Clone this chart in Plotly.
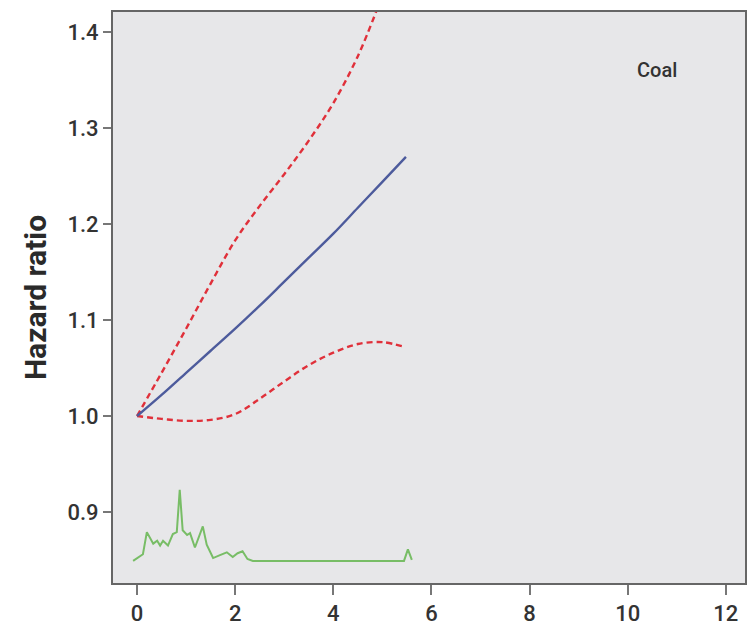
import plotly.graph_objects as go

# Central estimate (solid blue)
hr_x = [0, 0.5, 1, 1.5, 2, 2.5, 3, 3.5, 4, 4.5, 5, 5.48]
hr_y = [1.0, 1.022, 1.045, 1.068, 1.091, 1.115, 1.14, 1.165, 1.19, 1.217, 1.244, 1.27]

# Upper confidence limit (red dashed)
up_x = [0, 0.5, 1, 1.5, 2, 2.5, 3, 3.5, 4, 4.5, 4.9]
up_y = [1.0, 1.045, 1.091, 1.138, 1.183, 1.219, 1.252, 1.287, 1.326, 1.375, 1.425]

# Lower confidence limit (red dashed)
lo_x = [0, 0.5, 1, 1.5, 2, 2.5, 3, 3.5, 4, 4.5, 5, 5.45]
lo_y = [1.0, 0.997, 0.995, 0.996, 1.002, 1.018, 1.036, 1.053, 1.066, 1.075, 1.077, 1.072]

# Exposure density (green)
den_x = [-0.08, 0.04, 0.12, 0.2, 0.26, 0.33, 0.41, 0.47, 0.53, 0.63, 0.73, 0.81, 0.87,
         0.93, 1.02, 1.08, 1.18, 1.28, 1.34, 1.42, 1.55, 1.69, 1.83, 1.95, 2.05, 2.15,
         2.25, 2.36, 5.34, 5.44, 5.52, 5.6]
den_y = [0.849, 0.853, 0.856, 0.879, 0.874, 0.867, 0.87, 0.865, 0.87, 0.865, 0.877, 0.879, 0.923,
         0.881, 0.876, 0.878, 0.863, 0.878, 0.885, 0.866, 0.852, 0.855, 0.858, 0.853, 0.857, 0.859,
         0.851, 0.849, 0.849, 0.849, 0.861, 0.85]

x_ticks = [0, 2, 4, 6, 8, 10, 12]
y_ticks = [0.9, 1.0, 1.1, 1.2, 1.3, 1.4]
y_tick_text = ["0.9", "1.0", "1.1", "1.2", "1.3", "1.4"]

FONT = "Roboto, Liberation Sans Narrow, sans-serif"

fig = go.Figure()
fig.add_trace(go.Scatter(x=den_x, y=den_y, mode="lines",
                         line=dict(color="#78bd66", width=2), hoverinfo="skip"))
fig.add_trace(go.Scatter(x=up_x, y=up_y, mode="lines",
                         line=dict(color="#e0303a", width=2.4, dash="6px,4px", shape="spline")))
fig.add_trace(go.Scatter(x=lo_x, y=lo_y, mode="lines",
                         line=dict(color="#e0303a", width=2.4, dash="6px,4px", shape="spline")))
fig.add_trace(go.Scatter(x=hr_x, y=hr_y, mode="lines",
                         line=dict(color="#4d5b9c", width=2.4, shape="spline")))

fig.add_annotation(x=10.6, y=1.361, text="Coal", showarrow=False,
                   font=dict(family=FONT, size=20, weight=500, color="#333333"))

fig.update_layout(
    width=750, height=630,
    margin=dict(l=113, r=3, t=12, b=47),
    paper_bgcolor="white",
    plot_bgcolor="#e7e7e9",
    showlegend=False,
    font=dict(family=FONT, color="#333333"),
)
fig.update_xaxes(range=[-0.49, 12.39], tickvals=x_ticks, ticks="outside", ticklen=10,
                 tickcolor="#777777", tickwidth=1.5, showgrid=False, zeroline=False,
                 showline=True, linecolor="#666666", linewidth=2, mirror=True,
                 tickfont=dict(family=FONT, size=22, weight=500, color="#333333"))
fig.update_yaxes(range=[0.826, 1.421], tickvals=y_ticks, ticktext=y_tick_text,
                 ticks="outside", ticklen=8, tickcolor="#777777", tickwidth=1.5,
                 showgrid=False, zeroline=False, showline=True, linecolor="#666666",
                 linewidth=2, mirror=True,
                 tickfont=dict(family=FONT, size=22, weight=500, color="#333333"),
                 title=dict(text="<b>Hazard ratio</b>", standoff=12,
                            font=dict(family=FONT, size=30, color="#2a2a2a")))

fig.write_html("out.html")
